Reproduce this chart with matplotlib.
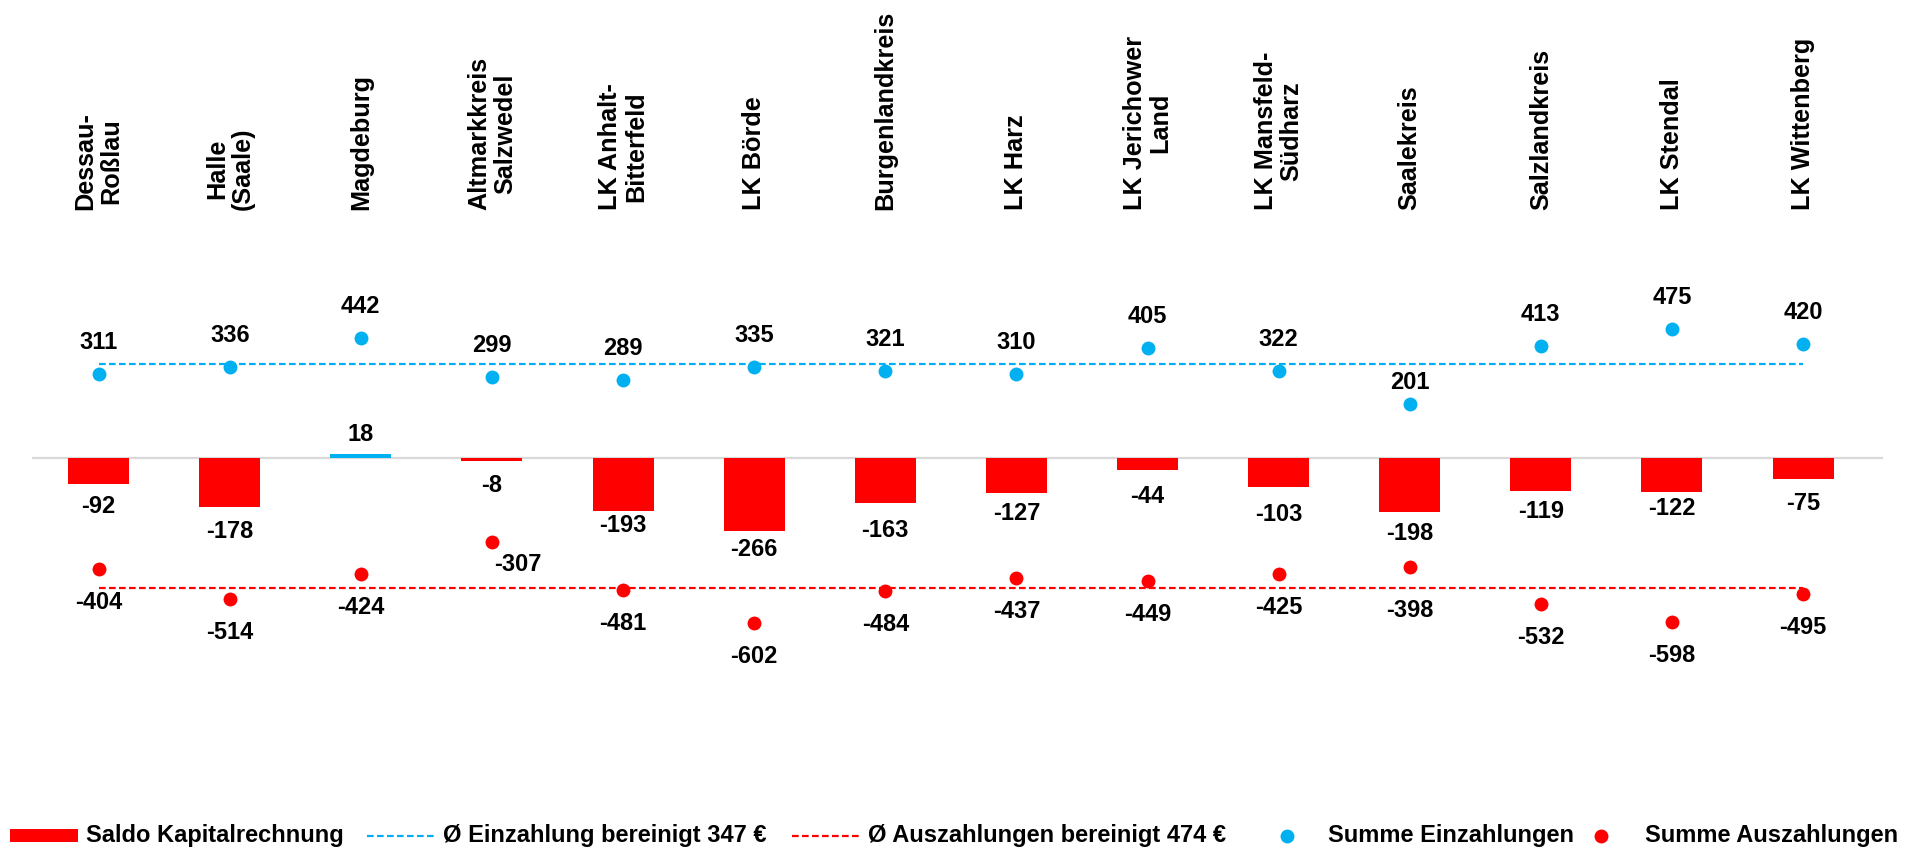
import matplotlib.pyplot as plt
from matplotlib import transforms
import numpy as np

plt.rcParams['font.family'] = ['Liberation Sans', 'DejaVu Sans']
plt.rcParams['font.weight'] = 'bold'

kreise = ['Dessau-\nRoßlau', 'Halle\n(Saale)', 'Magdeburg', 'Altmarkkreis\nSalzwedel',
          'LK Anhalt-\nBitterfeld', 'LK Börde', 'Burgenlandkreis', 'LK Harz',
          'LK Jerichower\nLand', 'LK Mansfeld-\nSüdharz', 'Saalekreis', 'Salzlandkreis',
          'LK Stendal', 'LK Wittenberg']
saldo = [-92, -178, 18, -8, -193, -266, -163, -127, -44, -103, -198, -119, -122, -75]
einzahlungen = [311, 336, 442, 299, 289, 335, 321, 310, 405, 322, 201, 413, 475, 420]
auszahlungen = [-404, -514, -424, -307, -481, -602, -484, -437, -449, -425, -398, -532, -598, -495]
avg_einzahlung = 347
avg_auszahlung = -474

BLAU = '#00B0F0'
ROT = '#FF0000'
FS = 17

# label offsets in pixels (hand placed labels)
bar_off = [23, 24, 19, 25, 14, 18, 28, 20, 26, 28, 21, 21, 17, 25]
ein_off = [31.5] * 14
ein_off[10] = 21
aus_off = [(0, 33.5)] * 14
aus_off[3] = (26, 22)
aus_off[10] = (0, 43)

fig = plt.figure(figsize=(19.06, 8.48), dpi=100)
ax = fig.add_axes([0.01737, 0.2020, 0.9630, 0.5147])
x = np.arange(len(kreise))

ax.axhline(0, xmin=0, xmax=1.0074, color='#D9D9D9', lw=1.6, zorder=1, clip_on=False)
farben = [BLAU if v > 0 else ROT for v in saldo]
ax.bar(x, saldo, width=0.465, color=farben, zorder=2)

ax.hlines(avg_einzahlung, x[0], x[-1], colors=BLAU, lw=1.6, linestyles=(0, (3, 1.5)), zorder=3)
ax.hlines(avg_auszahlung, x[0], x[-1], colors=ROT, lw=1.6, linestyles=(0, (3, 1.5)), zorder=3)

ax.plot(x, einzahlungen, 'o', color=BLAU, ms=10, mew=0, zorder=4)
ax.plot(x, auszahlungen, 'o', color=ROT, ms=10, mew=0, zorder=4)

for i in range(len(kreise)):
    dy = bar_off[i] if saldo[i] > 0 else -bar_off[i]
    ax.annotate(f'{saldo[i]}', (x[i], saldo[i]), xytext=(0, dy), textcoords='offset pixels',
                ha='center', va='center', fontsize=FS, fontweight='bold')
    ax.annotate(f'{einzahlungen[i]}', (x[i], einzahlungen[i]), xytext=(0, ein_off[i]),
                textcoords='offset pixels', ha='center', va='center', fontsize=FS, fontweight='bold')
    dx, d = aus_off[i]
    ax.annotate(f'{auszahlungen[i]}', (x[i], auszahlungen[i]), xytext=(dx, -d),
                textcoords='offset pixels', ha='center', va='center', fontsize=FS, fontweight='bold')

# category names on top, rotated
trans = transforms.blended_transform_factory(ax.transData, fig.transFigure)
for i, name in enumerate(kreise):
    ax.text(x[i], (848 - 210) / 848, name, transform=trans, rotation=90, ha='center', va='bottom',
            multialignment='center', fontsize=18.2, fontweight='bold', linespacing=1.1)

ax.set_xlim(-0.5, 13.5)
ax.set_ylim(-800, 800)
ax.axis('off')

# legend row along the bottom, laid out in pixel coordinates
lax = fig.add_axes([0, 0, 1, 1])
lax.set_xlim(0, 1906)
lax.set_ylim(848, 0)
lax.axis('off')
ly = 835.5
lax.add_patch(plt.Rectangle((10, ly - 6.7), 68, 13.4, color=ROT, lw=0))
lax.text(86, ly, 'Saldo Kapitalrechnung', va='center', fontsize=FS, fontweight='bold')
lax.plot([367, 437], [ly, ly], color=BLAU, lw=1.6, ls=(0, (3, 1.5)))
lax.text(443, ly, 'Ø Einzahlung bereinigt 347 €', va='center', fontsize=FS, fontweight='bold')
lax.plot([792, 862], [ly, ly], color=ROT, lw=1.6, ls=(0, (3, 1.5)))
lax.text(868, ly, 'Ø Auszahlungen bereinigt 474 €', va='center', fontsize=FS, fontweight='bold')
lax.plot([1287], [ly], 'o', color=BLAU, ms=10, mew=0)
lax.text(1328, ly, 'Summe Einzahlungen', va='center', fontsize=FS, fontweight='bold')
lax.plot([1601], [ly], 'o', color=ROT, ms=10, mew=0)
lax.text(1645, ly, 'Summe Auszahlungen', va='center', fontsize=FS, fontweight='bold')

fig.savefig('out.png', dpi=100)
